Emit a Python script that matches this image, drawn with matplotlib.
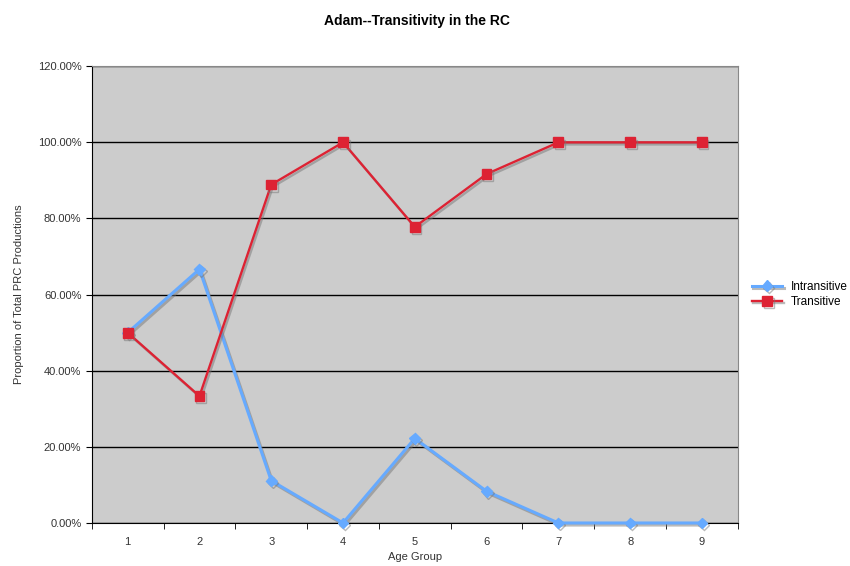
import numpy as np
import matplotlib.pyplot as plt
import matplotlib.patheffects as pe
from matplotlib.ticker import FuncFormatter

plt.rcParams.update({
    "font.family": ["Liberation Sans", "DejaVu Sans"],
    "font.size": 8,
})

age_groups = [1, 2, 3, 4, 5, 6, 7, 8, 9]
intransitive = [50.0, 66.67, 11.11, 0.0, 22.22, 8.33, 0.0, 0.0, 0.0]
transitive = [50.0, 33.33, 88.89, 100.0, 77.78, 91.67, 100.0, 100.0, 100.0]

fig = plt.figure(figsize=(8.5, 5.66), dpi=100)
ax = fig.add_axes([0.108, 0.076, 0.76, 0.807])
ax.set_facecolor('#cccccc')

# drop shadow under each series
shadow = [pe.SimpleLineShadow(offset=(1.2, -1.5), shadow_color='#777777', alpha=0.5), pe.Normal()]
ax.plot(age_groups, intransitive, color='#66aaff', lw=2.2, marker='D', ms=5.5,
        label='Intransitive', path_effects=shadow, zorder=3, clip_on=False)
ax.plot(age_groups, transitive, color='#dd2233', lw=1.7, marker='s', ms=7,
        label='Transitive', path_effects=shadow, zorder=4, clip_on=False)

ax.set_xlim(0.5, 9.5)
ax.set_ylim(0, 120)
ax.set_yticks(np.arange(0, 121, 20))
ax.yaxis.set_major_formatter(FuncFormatter(lambda v, p: '%.2f%%' % v))
ax.grid(axis='y', color='black', lw=1)
ax.set_axisbelow(True)

# category labels centred, tick marks on the boundaries
ax.set_xticks(age_groups)
ax.set_xticks(np.arange(0.5, 9.6, 1), minor=True)
ax.tick_params(axis='x', which='major', length=0, pad=10, colors='#333333')
ax.tick_params(axis='x', which='minor', length=4, direction='out', color='black')
ax.tick_params(axis='y', length=4, direction='out', colors='#333333')
ax.tick_params(axis='y', color='black')

for s in ['top', 'right']:
    ax.spines[s].set_color('#888888')
for s in ['left', 'bottom']:
    ax.spines[s].set_color('black')

ax.set_xlabel('Age Group', color='#333333', labelpad=4)
ax.set_ylabel('Proportion of Total PRC Productions', color='#333333', labelpad=10)
fig.suptitle('Adam--Transitivity in the RC', x=0.49, y=0.975, fontsize=10, fontweight='bold')

ax.legend(loc='center left', bbox_to_anchor=(1.005, 0.5), frameon=False,
          handlelength=2.6, handletextpad=0.7, fontsize=8.5, labelspacing=0.3)

fig.savefig('out.png', dpi=100)
